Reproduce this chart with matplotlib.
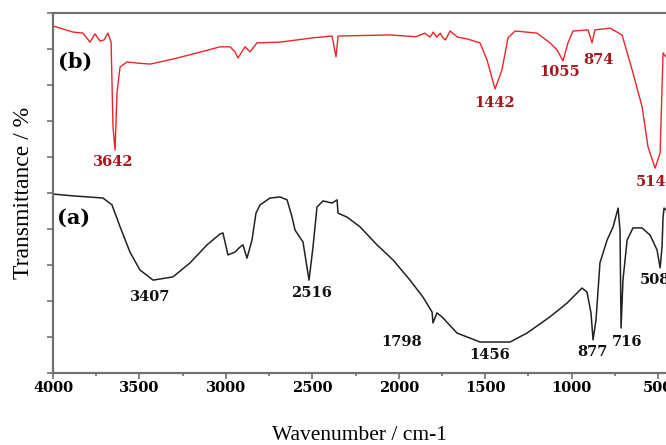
import matplotlib.pyplot as plt
from matplotlib.ticker import MultipleLocator

# spectrum (b), red - wavenumber / transmittance
wn_b = [4000, 3960, 3884, 3826, 3786, 3757, 3728, 3705, 3682, 3664, 3653, 3641, 3630,
        3612, 3572, 3514, 3439, 3306, 3167, 3034, 2976, 2947, 2930, 2889, 2860, 2820,
        2687, 2496, 2386, 2363, 2351, 2050, 1900, 1850, 1819, 1800, 1780, 1760, 1744,
        1730, 1703, 1660, 1605, 1530, 1489, 1443, 1403, 1368, 1327, 1200, 1125, 1084,
        1050, 1021, 992, 905, 882, 865, 778, 708, 650, 592, 558, 517, 488, 471, 454]
t_b = [96.4, 95.8, 94.7, 94.4, 91.9, 94.2, 92.2, 92.5, 94.4, 91.9, 68.3, 61.9, 77.8,
       85.0, 86.4, 86.1, 85.8, 87.2, 88.9, 90.6, 90.6, 89.2, 87.5, 90.6, 89.2, 91.7,
       91.9, 93.1, 93.6, 87.8, 93.6, 93.9, 93.4, 94.4, 93.3, 94.7, 93.3, 94.4, 93.1,
       92.5, 95.0, 93.3, 92.8, 91.7, 86.9, 78.9, 84.2, 93.1, 95.0, 94.4, 91.7, 89.7,
       86.7, 91.7, 95.0, 95.3, 91.7, 95.3, 95.8, 93.9, 84.2, 73.9, 62.8, 56.9, 61.1,
       88.9, 87.8]

# spectrum (a), black
wn_a = [4000, 3884, 3711, 3659, 3612, 3555, 3497, 3421, 3306, 3207, 3109, 3034, 3017,
        2988, 2947, 2918, 2901, 2878, 2849, 2826, 2802, 2745, 2687, 2646, 2617, 2600,
        2554, 2519, 2496, 2473, 2438, 2386, 2357, 2351, 2299, 2224, 2126, 2033, 1935,
        1860, 1807, 1802, 1779, 1750, 1663, 1588, 1530, 1356, 1258, 1125, 1027, 940,
        911, 888, 876, 859, 836, 795, 760, 731, 720, 714, 703, 679, 645, 593, 546, 506,
        488, 477, 471, 465, 454]
t_a = [49.7, 49.2, 48.6, 46.7, 40.6, 33.6, 28.6, 25.8, 26.7, 30.6, 35.6, 38.6, 38.9,
       32.8, 33.6, 35.0, 35.6, 31.9, 36.9, 44.4, 46.7, 48.6, 48.9, 48.1, 43.3, 39.7,
       36.4, 25.8, 35.0, 46.1, 47.8, 47.2, 48.1, 44.4, 43.3, 40.6, 35.6, 31.4, 25.8,
       21.1, 16.9, 13.9, 16.7, 15.6, 11.1, 9.7, 8.6, 8.6, 11.1, 15.6, 19.4, 23.6,
       22.5, 16.7, 9.2, 14.7, 30.6, 36.9, 40.6, 45.8, 39.7, 12.5, 25.8, 36.9, 40.3,
       40.3, 38.3, 34.2, 29.2, 35.0, 43.3, 45.8, 45.3]

# peak labels: text, wavenumber, transmittance
labels_b = [("3642", 3653, 58.6), ("1442", 1443, 75.0), ("1055", 1067, 83.6),
            ("874", 847, 86.9), ("514", 540, 53.0)]
labels_a = [("3407", 3439, 21.1), ("2516", 2502, 22.2), ("1798", 1981, 8.6),
            ("1456", 1472, 5.0), ("877", 882, 5.8), ("716", 679, 8.6), ("508", 520, 25.8)]

fig = plt.figure(figsize=(6.66, 4.45), dpi=100)
ax = fig.add_axes([0.0796, 0.1618, 0.9204, 0.809])

ax.plot(wn_b, t_b, color="#e8262a", lw=1.0)
ax.plot(wn_a, t_a, color="#222222", lw=1.1)

lab_font = dict(family="DejaVu Serif", weight="bold", fontsize=10.5, ha="center", va="center")
for txt, x, y in labels_b:
    ax.text(x, y, txt, color="#a8141c", **lab_font)
for txt, x, y in labels_a:
    ax.text(x, y, txt, color="#111111", **lab_font)

ax.text(3873, 86.4, "(b)", family="DejaVu Serif", weight="bold", fontsize=15,
        ha="center", va="center")
ax.text(3884, 43.0, "(a)", family="DejaVu Serif", weight="bold", fontsize=15,
        ha="center", va="center")

ax.set_xlim(4000, 454)
ax.set_ylim(0, 100)
ax.xaxis.set_major_locator(MultipleLocator(500))
ax.xaxis.set_minor_locator(MultipleLocator(250))
ax.yaxis.set_major_locator(MultipleLocator(10))
ax.set_yticklabels([])

for s in ["left", "bottom", "top"]:
    ax.spines[s].set_color("#707070")
    ax.spines[s].set_linewidth(1.6)
ax.spines["right"].set_visible(False)

ax.tick_params(axis="both", which="major", color="#707070", width=1.2, length=4)
ax.tick_params(axis="x", which="minor", color="#707070", width=1.2, length=2)
ax.tick_params(axis="x", labelsize=10.5, pad=2)
for lbl in ax.get_xticklabels():
    lbl.set_fontfamily("DejaVu Serif")
    lbl.set_fontweight("bold")

ax.set_xlabel("Wavenumber / cm-1", family="Liberation Serif", fontsize=15.5, labelpad=22)
ax.set_ylabel("Transmittance / %", family="Liberation Serif", fontsize=17, labelpad=6)

fig.savefig("out.png", dpi=100)
